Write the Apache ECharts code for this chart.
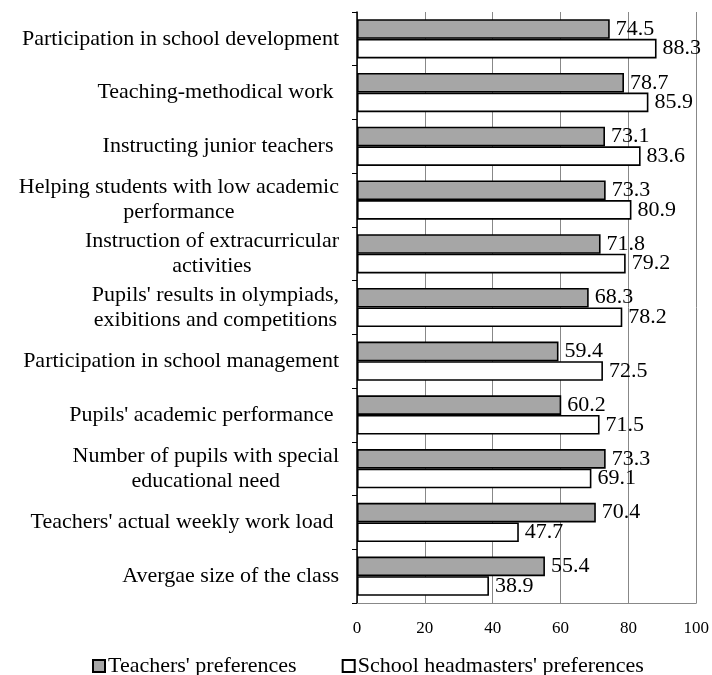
<!DOCTYPE html>
<html>
<head>
<meta charset="utf-8">
<script src="https://cdn.jsdelivr.net/npm/echarts@6/dist/echarts.min.js"></script>
<style>
  html, body { margin: 0; padding: 0; background: #ffffff; }
  #chart { width: 712px; height: 675px; }
</style>
</head>
<body>
<div id="chart"></div>
<script>
// Criteria, listed top to bottom
const categories = [
  "Participation in school development",
  "Teaching-methodical work ",
  "Instructing junior teachers ",
  "Helping students with low academic\nperformance",
  "Instruction of extracurricular\nactivities",
  "Pupils' results in olympiads,\nexibitions and competitions",
  "Participation in school management",
  "Pupils' academic performance ",
  "Number of pupils with special\neducational need",
  "Teachers' actual weekly work load ",
  "Avergae size of the class"
];

const teachers = [74.5, 78.7, 73.1, 73.3, 71.8, 68.3, 59.4, 60.2, 73.3, 70.4, 55.4];
const headmasters = [88.3, 85.9, 83.6, 80.9, 79.2, 78.2, 72.5, 71.5, 69.1, 47.7, 38.9];

const xTicks = [0, 20, 40, 60, 80, 100];

const seriesNames = ["Teachers' preferences", "School headmasters' preferences"];

const FONT = "Liberation Serif";

const chart = echarts.init(document.getElementById('chart'), null, { renderer: 'canvas' });

const valueLabel = {
  show: true,
  position: 'right',
  distance: 6,
  fontFamily: FONT,
  fontSize: 22,
  color: '#000',
  formatter: p => p.value.toFixed(1)
};

chart.setOption({
  animation: false,
  backgroundColor: '#ffffff',
  textStyle: { fontFamily: FONT, color: '#000' },
  grid: { left: 357, right: 15, top: 12, bottom: 72, containLabel: false },
  legend: {
    left: 92,
    top: 655,
    padding: 0,
    icon: 'rect',
    itemWidth: 12,
    itemHeight: 12,
    itemGap: 45,
    textStyle: { fontFamily: FONT, fontSize: 22, color: '#000', padding: [0, 0, 0, -2] },
    data: seriesNames
  },
  xAxis: {
    type: 'value',
    min: xTicks[0],
    max: xTicks[xTicks.length - 1],
    interval: xTicks[1] - xTicks[0],
    axisLine: { show: true, lineStyle: { color: '#888', width: 1 } },
    axisTick: { show: false },
    splitLine: { show: true, lineStyle: { color: '#888', width: 1 } },
    axisLabel: { fontFamily: FONT, fontSize: 17, color: '#000', margin: 17 }
  },
  yAxis: {
    type: 'category',
    inverse: true,
    data: categories,
    axisLine: { show: true, lineStyle: { color: '#000', width: 1.5 } },
    axisTick: { show: true, inside: false, length: 5, lineStyle: { color: '#000', width: 1 } },
    splitLine: { show: false },
    axisLabel: {
      margin: 18,
      align: 'right',
      formatter: v => v.split('\n').map(l => '{c|' + l + '}').join('\n'),
      rich: {
        c: { fontFamily: FONT, fontSize: 22, color: '#000', align: 'center', lineHeight: 25 }
      }
    }
  },
  series: [
    {
      name: seriesNames[0],
      type: 'bar',
      data: teachers,
      barGap: '0%',
      barCategoryGap: '27%',
      itemStyle: { color: '#a6a6a6', borderColor: '#000', borderWidth: 1.6 },
      label: valueLabel
    },
    {
      name: seriesNames[1],
      type: 'bar',
      data: headmasters,
      barGap: '0%',
      barCategoryGap: '27%',
      itemStyle: { color: '#ffffff', borderColor: '#000', borderWidth: 1.6 },
      label: valueLabel
    }
  ]
});
</script>
</body>
</html>
